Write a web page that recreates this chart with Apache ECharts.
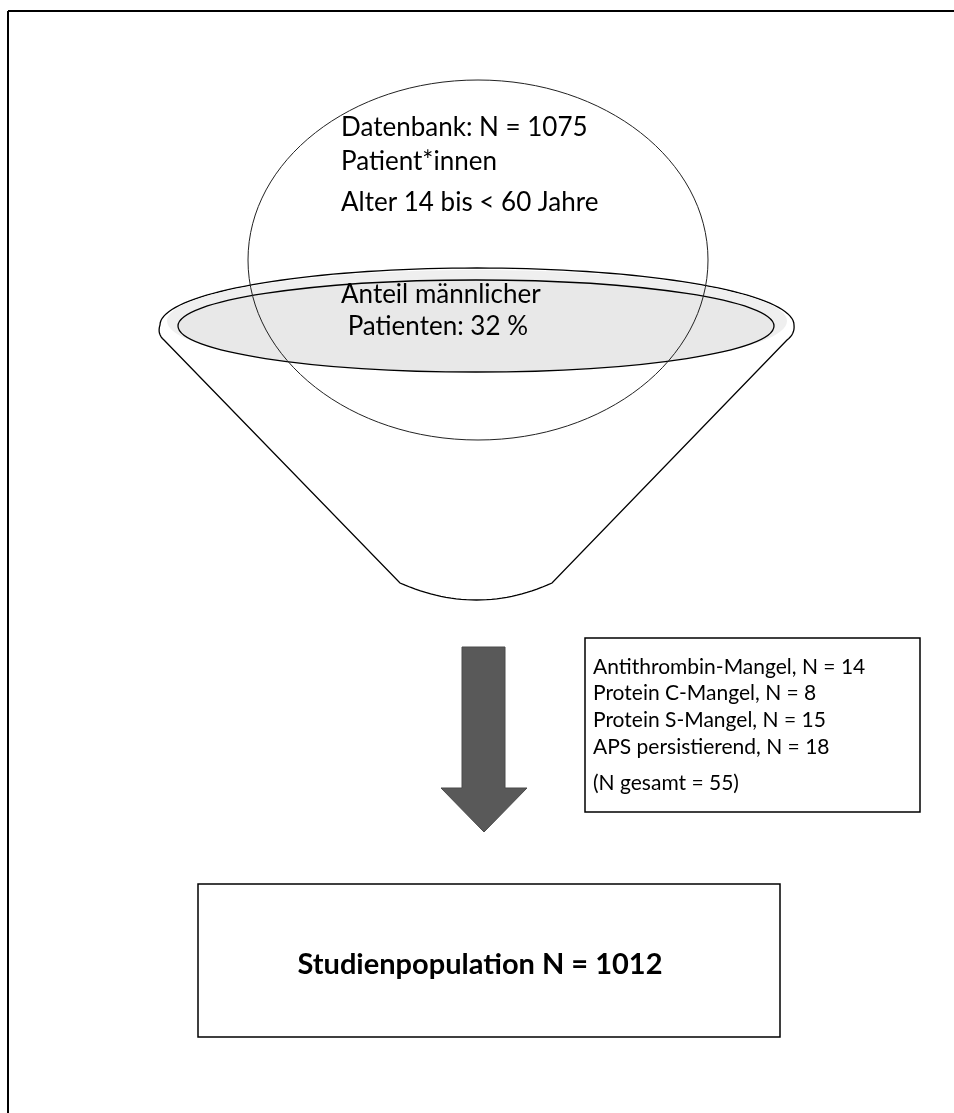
<!DOCTYPE html>
<html>
<head>
<meta charset="utf-8">
<script src="https://cdn.jsdelivr.net/npm/echarts@6/dist/echarts.min.js"></script>
<style>
html,body{margin:0;padding:0;background:#fff;}
#c{width:954px;height:1113px;}
</style>
</head>
<body>
<div id="c"></div>
<script>
// ---- content (texts and counts) ----
var circleLines = ['Datenbank: N = 1075', 'Patient*innen', 'Alter 14 bis < 60 Jahre'];
var maleLines = ['Anteil männlicher', ' Patienten: 32 %'];
var exclusionLabels = ['Antithrombin-Mangel', 'Protein C-Mangel', 'Protein S-Mangel', 'APS persistierend'];
var exclusionCounts = [14, 8, 15, 18];
var exclusionTotal = 55;
var studyPopulation = 1012;

var FONT = 'Lato, "Open Sans", "Noto Sans", sans-serif';

var chart = echarts.init(document.getElementById('c'), null, {renderer: 'canvas'});

// funnel outline built from geometric pieces
function funnelPoints() {
  var pts = [];
  var cx = 477, cy = 325, rx = 317, ry = 57;
  var i, t;
  for (i = 0; i <= 80; i++) {
    t = Math.PI + Math.PI * i / 80;
    pts.push([cx + rx * Math.cos(t), cy + ry * Math.sin(t)]);
  }
  function quad(p0, c, p1, n) {
    for (var k = 1; k <= n; k++) {
      var s = k / n;
      pts.push([(1-s)*(1-s)*p0[0] + 2*(1-s)*s*c[0] + s*s*p1[0],
                (1-s)*(1-s)*p0[1] + 2*(1-s)*s*c[1] + s*s*p1[1]]);
    }
  }
  quad([794, 325], [795, 334], [787, 340], 8);
  pts.push([552, 583]);
  quad([552, 583], [477, 617], [400, 583], 30);
  pts.push([164, 340]);
  quad([164, 340], [157, 334], [160, 325], 8);
  return pts;
}

var elements = [];
// frame lines (top and left)
elements.push({type: 'line', shape: {x1: 8, y1: 11, x2: 954, y2: 11}, style: {stroke: '#000', lineWidth: 2}});
elements.push({type: 'line', shape: {x1: 8, y1: 11, x2: 8, y2: 1113}, style: {stroke: '#000', lineWidth: 2}});

// funnel body
elements.push({type: 'polygon', shape: {points: funnelPoints()}, style: {fill: '#fff', stroke: '#000', lineWidth: 1.3}});
// light band
elements.push({type: 'ellipse', shape: {cx: 477, cy: 321, rx: 310, ry: 51}, style: {fill: '#efefef', stroke: null}});
// inner grey ellipse
elements.push({type: 'ellipse', shape: {cx: 476, cy: 326, rx: 298, ry: 46}, style: {fill: '#e8e8e8', stroke: '#000', lineWidth: 1.3}});
// big circle
elements.push({type: 'ellipse', shape: {cx: 478, cy: 260, rx: 230, ry: 180}, style: {fill: null, stroke: '#222', lineWidth: 1}});

// texts in circle
var tx = 341;
var circleY = [128, 162, 203];
circleLines.forEach(function (s, i) {
  elements.push({type: 'text', x: tx, y: circleY[i], style: {text: s, font: '26px ' + FONT, fill: '#000', textVerticalAlign: 'middle'}});
});
var maleY = [295, 327];
maleLines.forEach(function (s, i) {
  elements.push({type: 'text', x: tx, y: maleY[i], style: {text: s, font: '26px ' + FONT, fill: '#000', textVerticalAlign: 'middle'}});
});

// arrow
elements.push({type: 'polygon', shape: {points: [[462,647],[505,647],[505,788],[527,788],[484,832],[441,788],[462,788]]}, style: {fill: '#595959', stroke: '#4a4a4a', lineWidth: 1}});

// exclusion box
elements.push({type: 'rect', shape: {x: 585, y: 638, width: 335, height: 174}, style: {fill: '#fff', stroke: '#000', lineWidth: 1.5}});
var exLines = exclusionLabels.map(function (l, i) { return l + ', N = ' + exclusionCounts[i]; });
exLines.push('(N gesamt = ' + exclusionTotal + ')');
var exY = [667, 693, 720, 747, 783];
exLines.forEach(function (s, i) {
  elements.push({type: 'text', x: 593, y: exY[i], style: {text: s, font: '21px ' + FONT, fill: '#000', textVerticalAlign: 'middle'}});
});

// study population box
elements.push({type: 'rect', shape: {x: 198, y: 884, width: 582, height: 153}, style: {fill: '#fff', stroke: '#000', lineWidth: 1.5}});
elements.push({type: 'text', x: 480, y: 965, style: {text: 'Studienpopulation N = ' + studyPopulation, font: 'bold 29px ' + FONT, fill: '#000', textAlign: 'center', textVerticalAlign: 'middle'}});

chart.setOption({
  backgroundColor: '#fff',
  animation: false,
  graphic: {elements: elements}
});
</script>
</body>
</html>
